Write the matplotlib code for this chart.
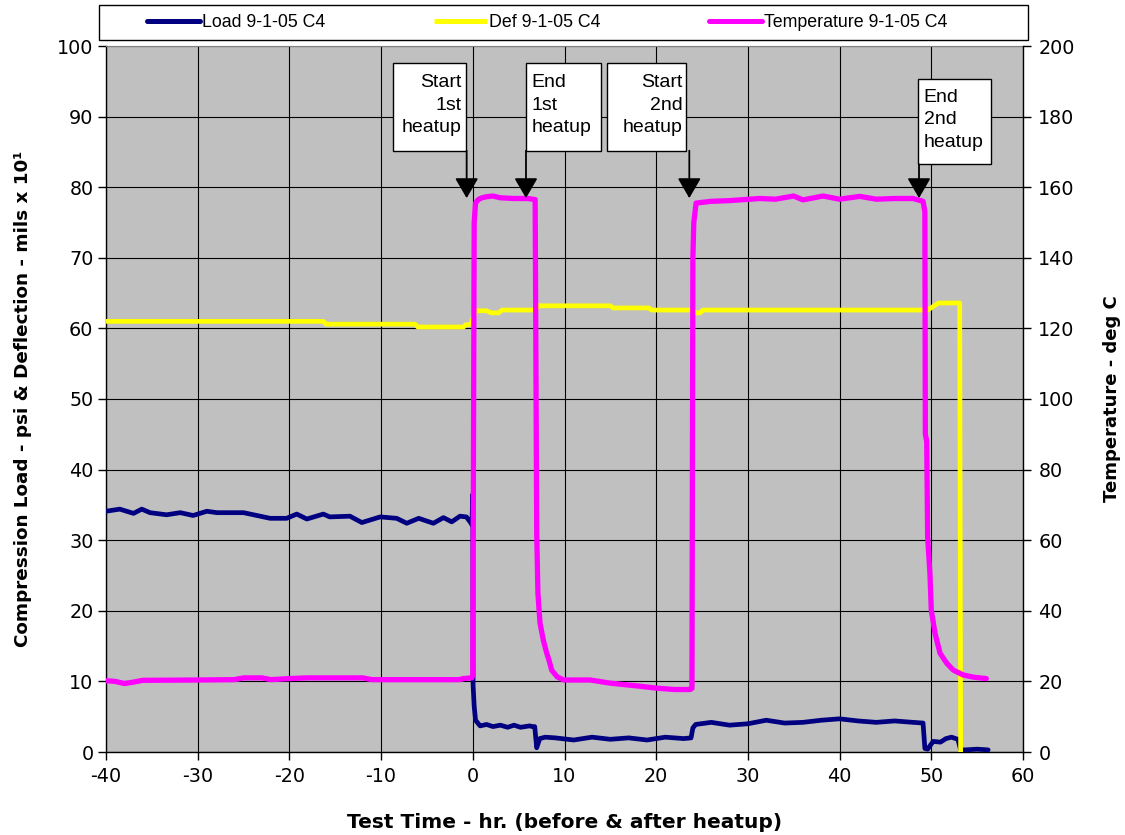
import matplotlib
matplotlib.use('Agg')
import matplotlib.pyplot as plt
from matplotlib.patches import Rectangle

# ---------------- data ----------------
load_t = [-40, -38.5, -37, -36.1, -35.2, -33.4, -31.9, -30.5, -29, -27.9,
          -25, -22.1, -20.3, -19.2, -18.1, -16.3, -15.6, -13.4, -12.1, -10.1,
          -8.3, -7.2, -5.9, -4.3, -3.2, -2.3, -1.4, -0.7, -0.3, -0.1,
          0.0, 0.03, 0.15, 0.3, 0.8, 1.5, 2.2, 3.0, 3.8, 4.5,
          5.2, 6.2, 6.5, 6.75, 6.97, 7.3, 7.9, 9, 11, 13,
          15, 17, 19, 21, 23, 23.8, 24.0, 24.3, 26, 28,
          30, 32, 34, 36, 38, 40, 42, 44, 46, 48,
          49.1, 49.3, 49.6, 50.2, 51, 51.6, 52.2, 52.9, 53.2, 53.7,
          55, 56.2]
load_v = [34.1, 34.4, 33.8, 34.4, 33.9, 33.6, 33.9, 33.5, 34.1, 33.9,
          33.9, 33.1, 33.1, 33.7, 33.0, 33.7, 33.3, 33.4, 32.5, 33.3,
          33.1, 32.4, 33.1, 32.4, 33.2, 32.6, 33.4, 33.3, 32.6, 32.2,
          36.5, 9.5, 6.5, 4.5, 3.7, 3.9, 3.6, 3.8, 3.5, 3.8,
          3.5, 3.7, 3.6, 3.6, 0.6, 1.9, 2.1, 2.0, 1.7, 2.1,
          1.8, 2.0, 1.7, 2.1, 1.9, 2.0, 3.4, 3.9, 4.2, 3.8,
          4.0, 4.5, 4.1, 4.2, 4.5, 4.7, 4.4, 4.2, 4.4, 4.2,
          4.1, 0.5, 0.4, 1.5, 1.4, 1.9, 2.1, 1.8, 0.3, 0.3,
          0.4, 0.3]

def_t = [-40, -16.3, -16.0, -6.3, -6.0, -1.0, -0.8, -0.2, 0.3, 1.5,
         2.0, 2.8, 3.2, 6.8, 7.2, 15.0, 15.3, 19.2, 19.5, 24.0,
         24.3, 24.8, 25.1, 49.6, 50.8, 53.1, 53.2]
def_v = [61.0, 61.0, 60.6, 60.6, 60.2, 60.2, 60.5, 60.6, 62.5, 62.5,
         62.2, 62.2, 62.6, 62.6, 63.2, 63.2, 62.9, 62.9, 62.6, 62.6,
         62.2, 62.2, 62.6, 62.6, 63.6, 63.6, 0.0]

temp_t = [-40, -39, -38, -37, -36, -30, -26, -25, -23, -22,
          -20, -18, -12, -11, -1.5, -1.0, -0.1, 0.0, 0.15, 0.3,
          0.6, 1.0, 1.5, 2.2, 3.0, 4.5, 6.0, 6.8, 6.97, 7.1,
          7.33, 7.69, 8.06, 8.3, 8.6, 9.2, 9.9, 12.8, 15, 18,
          20, 22, 23.7, 23.9, 24.0, 24.1, 24.35, 26, 28, 31.3,
          33, 35, 36, 38.2, 40, 42.2, 44, 46, 48, 49.1,
          49.3, 49.35, 49.5, 49.6, 49.85, 50.0, 50.4, 50.95, 51.7, 52.4,
          53.5, 54.6, 56.0]
temp_v = [20.2, 20.0, 19.4, 19.8, 20.3, 20.4, 20.5, 21.0, 21.0, 20.5,
          20.8, 21.0, 21.0, 20.5, 20.5, 20.8, 21.0, 22.0, 150, 155.5,
          156.5, 157, 157.3, 157.5, 157, 156.8, 156.8, 156.5, 62, 45,
          36.5, 31.7, 28, 26.1, 23.2, 21.3, 20.4, 20.4, 19.5, 18.7,
          18.1, 17.7, 17.7, 18, 140, 150, 155.5, 156, 156.2, 156.8,
          156.6, 157.5, 156.4, 157.5, 156.6, 157.4, 156.6, 156.8, 156.8, 156,
          153, 90, 88, 61, 50.6, 40.2, 33.7, 28, 25.1, 23.2,
          21.8, 21.2, 20.8]

series_labels = ['Load 9-1-05 C4', 'Def 9-1-05 C4', 'Temperature 9-1-05 C4']
x_ticks = list(range(-40, 61, 10))
y_ticks = list(range(0, 101, 10))
y2_ticks = list(range(0, 201, 20))

# annotations: (text, box x0, box x1, box y0, box y1, halign, arrow x, arrow tip y)
notes = [
    ('Start\n1st\nheatup', -8.74, -0.74, 85.17, 97.55, 'right', -0.67, 78.45),
    ('End\n1st\nheatup', 5.77, 13.98, 85.17, 97.55, 'left', 5.80, 78.45),
    ('Start\n2nd\nheatup', 14.6, 23.3, 85.17, 97.55, 'right', 23.61, 78.45),
    ('End\n2nd\nheatup', 48.52, 56.5, 83.24, 95.3, 'left', 48.66, 78.45),
]

# ---------------- figure ----------------
W, H = 1125, 835
fig = plt.figure(figsize=(W / 100, H / 100), dpi=100)
ax = fig.add_axes([106 / W, 1 - 752 / H, 917 / W, 706 / H])
ax.set_facecolor('#C0C0C0')
ax.set_xlim(-40, 60)
ax.set_ylim(0, 100)
ax.set_xticks(x_ticks)
ax.set_yticks(y_ticks)
ax.grid(True, color='#000000', lw=0.8)
ax.set_axisbelow(True)

tick_font = dict(family='DejaVu Sans', size=13.8)
ax.set_xticklabels([str(v) for v in x_ticks], **tick_font)
ax.set_yticklabels([str(v) for v in y_ticks], **tick_font)
ax.tick_params(axis='x', direction='out', length=6, width=1, pad=5)
ax.tick_params(axis='y', direction='out', length=6, width=1, pad=3)
for s in ['left', 'bottom']:
    ax.spines[s].set_color('black')
    ax.spines[s].set_linewidth(1.0)
ax.spines['top'].set_color('#808080')
ax.spines['right'].set_visible(False)

l_load, = ax.plot(load_t, load_v, color='#000080', lw=3.4,
                  solid_joinstyle='round', solid_capstyle='round', zorder=3)
l_def, = ax.plot(def_t, def_v, color='#FFFF00', lw=3.4,
                 solid_joinstyle='round', solid_capstyle='butt', zorder=4)

ax2 = ax.twinx()
ax2.set_ylim(0, 200)
ax2.set_yticks(y2_ticks)
ax2.set_yticklabels([str(v) for v in y2_ticks], **tick_font)
ax2.tick_params(axis='y', direction='out', length=6, width=1, pad=5)
ax2.spines['right'].set_color('black')
ax2.spines['right'].set_linewidth(1.0)
for s in ['top', 'left', 'bottom']:
    ax2.spines[s].set_visible(False)
l_temp, = ax2.plot(temp_t, temp_v, color='#FF00FF', lw=3.8,
                   solid_joinstyle='round', solid_capstyle='round', zorder=3)

# axis titles
lab_font = dict(family='DejaVu Sans', weight='bold')
ax.set_xlabel('Test Time - hr. (before & after heatup)', fontsize=14.5, labelpad=19, **lab_font)
ax.set_ylabel('Compression Load - psi & Deflection - mils x 10\u00b9', fontsize=13.2,
              labelpad=18, **lab_font)
ax2.set_ylabel('Temperature - deg C', fontsize=13, labelpad=20, **lab_font)

# annotation boxes and arrows (in left-axis data coords, drawn on top)
for txt, x0, x1, y0, y1, ha, axx, tipy in notes:
    rect = Rectangle((x0, y0), x1 - x0, y1 - y0, transform=ax.transData,
                     facecolor='white', edgecolor='black', lw=1.0, zorder=10)
    ax2.add_patch(rect)
    tx = x1 - 0.45 if ha == 'right' else x0 + 0.65
    ax2.text(tx, (y0 + y1) / 2 + 0.25, txt, transform=ax.transData, ha=ha, va='center',
             multialignment=ha, family=['Liberation Sans', 'DejaVu Sans'], fontsize=14,
             linespacing=1.42, zorder=11)
    ax2.annotate('', xy=(axx, tipy), xytext=(axx, y0), xycoords=ax.transData,
                 textcoords=ax.transData,
                 arrowprops=dict(arrowstyle='-|>,head_length=0.62,head_width=0.36',
                                 mutation_scale=20, color='black', lw=1.3,
                                 shrinkA=0, shrinkB=0),
                 zorder=12)

# legend box
fig.patches.append(Rectangle((99 / W, 1 - 40 / H), 929 / W, 35 / H, transform=fig.transFigure,
                             facecolor='white', edgecolor='black', lw=1.0, zorder=0))
leg = fig.legend([l_load, l_def, l_temp], series_labels, ncol=3, frameon=False,
                 loc='center left', bbox_to_anchor=(147 / W, 1 - 22.5 / H),
                 borderpad=0, borderaxespad=0, handlelength=3.0, handletextpad=0.1,
                 columnspacing=6.1,
                 prop=dict(family='Liberation Sans', size=12.8))
for h in leg.legend_handles:
    h.set_linewidth(3.6)

fig.savefig('out.png', dpi=100)
